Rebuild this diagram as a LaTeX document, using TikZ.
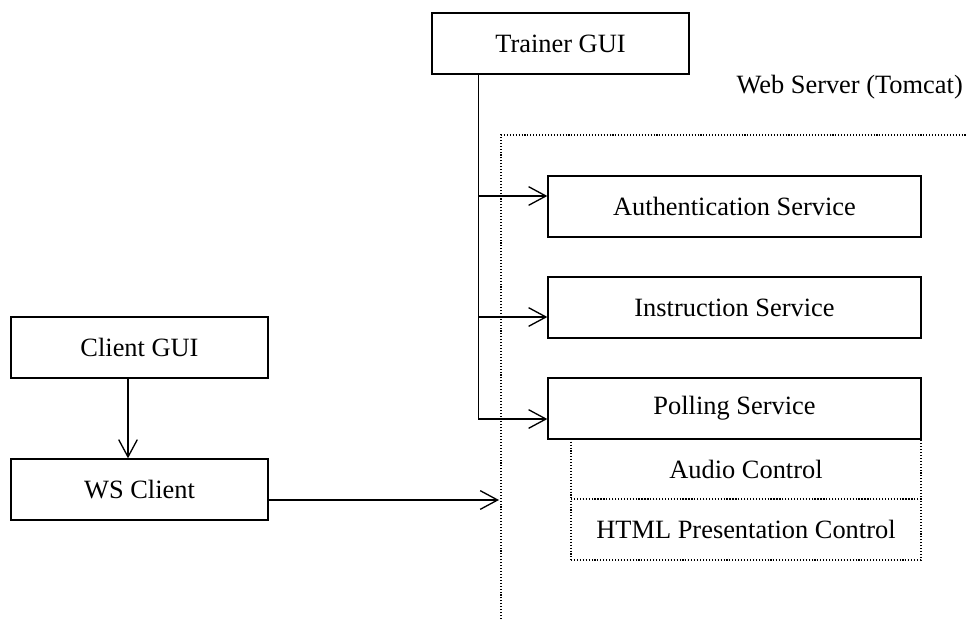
\documentclass[tikz,border=0pt]{standalone}
\usepackage{fontspec}
\setmainfont{Liberation Serif}
\usetikzlibrary{arrows.meta,calc}
\tikzset{
  box/.style={draw, line width=1pt, inner sep=0pt, minimum height=61*0.75pt, font=\fontsize{19.8}{24}\selectfont},
  dotbox/.style={draw, line width=0.8pt, dash pattern=on 0.8pt off 1.4pt, inner sep=0pt, font=\fontsize{19.8}{24}\selectfont},
  arr/.style={line width=1pt, -{Straight Barb[length=13pt, width=14pt, line width=1pt]}},
  conn/.style={line width=1pt},
  frame/.style={line width=0.8pt, dash pattern=on 0.8pt off 1.4pt},
  lbl/.style={font=\fontsize{19.8}{24}\selectfont, inner sep=0pt}
}
\begin{document}
\begin{tikzpicture}[x=0.75pt, y=-0.75pt]
\useasboundingbox (0,0) rectangle (967,619);
% container
\coordinate (fb) at (501,619);
\coordinate (fc) at (501,135);
\coordinate (fr) at (967,135);
\draw[frame] (fb) -- (fc) -- (fr);
\node[lbl, anchor=base east] (web) at (963,93) {Web Server (Tomcat)};
% boxes
\node[box, minimum width=257*0.75pt] (trainer) at (560.5,43.5) {Trainer GUI};
\node[box, minimum width=373*0.75pt] (auth) at (734.5,206.5) {Authentication Service};
\node[box, minimum width=373*0.75pt] (instr) at (734.5,307.5) {Instruction Service};
\node[dotbox, minimum width=350*0.75pt, minimum height=60*0.75pt] (audio) at (746,469) {Audio Control};
\node[dotbox, minimum width=350*0.75pt, minimum height=61*0.75pt] (html) at (746,529.5) {HTML Presentation Control};
\node[box, fill=white, minimum width=373*0.75pt] (poll) at (734.5,408.5) {Polling Service};
\node[box, minimum width=257*0.75pt] (client) at (139.5,347.5) {Client GUI};
\node[box, minimum width=257*0.75pt] (ws) at (139.5,489.5) {WS Client};
% connectors
\coordinate (tv) at ($(trainer.south west)+(47,0)$);
\coordinate (pa) at ($(poll.west)+(0,10.5)$);
\draw[arr] (tv) |- (pa);
\coordinate (aa) at ($(auth.west)+(0,-10.5)$);
\draw[arr] (tv |- aa) -- (aa);
\coordinate (ia) at ($(instr.west)+(0,9.5)$);
\draw[arr] (tv |- ia) -- (ia);
\coordinate (ca) at ($(client.south)+(-11.5,0)$);
\coordinate (cb) at ($(ws.north)+(-11.5,0)$);
\draw[arr] (ca) -- (cb);
\coordinate (we) at (499,500);
\draw[arr] (ws.east |- we) -- (we);
\end{tikzpicture}
\end{document}
